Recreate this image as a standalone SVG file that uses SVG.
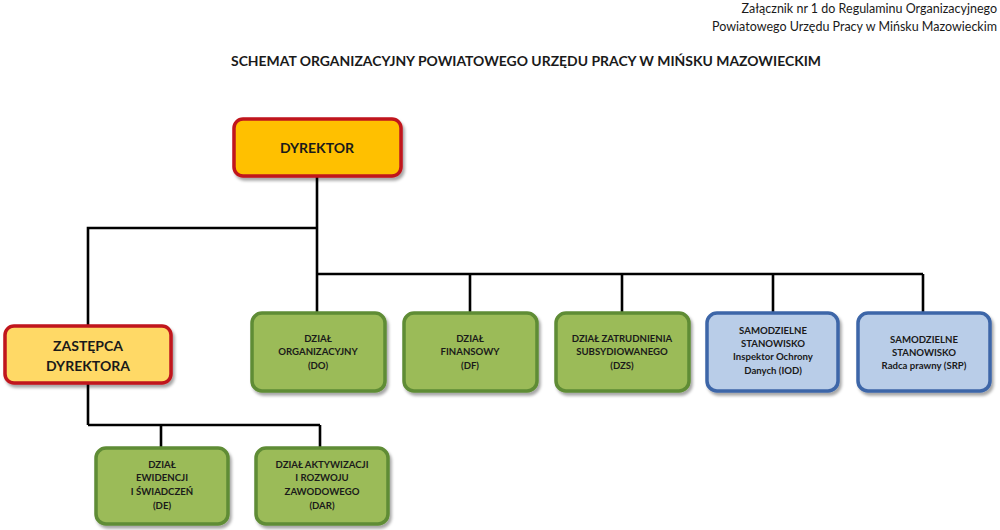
<svg xmlns="http://www.w3.org/2000/svg" width="1000" height="530" viewBox="0 0 1000 530">
<defs>
<filter id="sh" x="-10%" y="-10%" width="125%" height="130%">
<feDropShadow dx="2" dy="3" stdDeviation="1.5" flood-color="#000" flood-opacity="0.35"/>
</filter>
<style>
text{font-family:Lato,"Open Sans","Liberation Sans",sans-serif;fill:#1a1a1a}
.hdr{font-size:12.5px;text-anchor:end}
.title{font-size:14px;font-weight:bold;text-anchor:middle}
.big{font-size:14px;font-weight:bold;text-anchor:middle}
.sm{font-size:9.6px;font-weight:bold;text-anchor:middle}
.red{stroke:#C0141B;stroke-width:3.5;filter:url(#sh)}
.dyr{fill:#FFC000}
.zas{fill:#FFD966}
.grn{fill:#9BBB59;stroke:#5E8C34;stroke-width:3.5;filter:url(#sh)}
.blu{fill:#B9CDE8;stroke:#3E66A8;stroke-width:3.5;filter:url(#sh)}
.ln{stroke:#000;stroke-width:2.6;fill:none}
</style>
</defs>
<rect width="1000" height="530" fill="#fff"/>
<g id="header">
<text class="hdr" x="997" y="13">Załącznik nr 1 do Regulaminu Organizacyjnego</text>
<text class="hdr" x="997" y="31">Powiatowego Urzędu Pracy w Mińsku Mazowieckim</text>
<text class="title" x="526" y="66" textLength="590" lengthAdjust="spacingAndGlyphs">SCHEMAT ORGANIZACYJNY POWIATOWEGO URZĘDU PRACY W MIŃSKU MAZOWIECKIM</text>
</g>
<g id="connectors">
<path class="ln" d="M317 176 V312 M317 228 H88 V325 M317 274 H923 M470 274 V312 M622 274 V312 M773 274 V312 M923 274 V312 M88 383 V425 M88 425 H320 M161 425 V447 M320 425 V447"/>
</g>
<g id="dyrektor">
<rect class="red dyr" x="234" y="119" width="167" height="57" rx="9"/>
<text class="big" x="317" y="153">DYREKTOR</text>
</g>
<g id="zastepca">
<rect class="red zas" x="5" y="326" width="166" height="57" rx="9"/>
<text class="big" x="88" y="351">ZASTĘPCA</text>
<text class="big" x="88" y="371">DYREKTORA</text>
</g>
<g id="do">
<rect class="grn" x="252" y="313" width="133" height="78" rx="10"/>
<text class="sm" x="318" y="342">DZIAŁ</text>
<text class="sm" x="318" y="355">ORGANIZACYJNY</text>
<text class="sm" x="318" y="369">(DO)</text>
</g>
<g id="df">
<rect class="grn" x="404" y="313" width="133" height="78" rx="10"/>
<text class="sm" x="470" y="342">DZIAŁ</text>
<text class="sm" x="470" y="355">FINANSOWY</text>
<text class="sm" x="470" y="369">(DF)</text>
</g>
<g id="dzs">
<rect class="grn" x="556" y="313" width="133" height="78" rx="10"/>
<text class="sm" x="622" y="342">DZIAŁ ZATRUDNIENIA</text>
<text class="sm" x="622" y="355">SUBSYDIOWANEGO</text>
<text class="sm" x="622" y="369">(DZS)</text>
</g>
<g id="iod">
<rect class="blu" x="707" y="313" width="131" height="78" rx="10"/>
<text class="sm" x="773" y="334">SAMODZIELNE</text>
<text class="sm" x="773" y="347">STANOWISKO</text>
<text class="sm" x="773" y="360">Inspektor Ochrony</text>
<text class="sm" x="773" y="374">Danych (IOD)</text>
</g>
<g id="srp">
<rect class="blu" x="858" y="313" width="132" height="78" rx="10"/>
<text class="sm" x="924" y="343">SAMODZIELNE</text>
<text class="sm" x="924" y="356">STANOWISKO</text>
<text class="sm" x="924" y="369">Radca prawny (SRP)</text>
</g>
<g id="de">
<rect class="grn" x="96" y="448" width="132" height="76" rx="10"/>
<text class="sm" x="162" y="468">DZIAŁ</text>
<text class="sm" x="162" y="481">EWIDENCJI</text>
<text class="sm" x="162" y="495">I ŚWIADCZEŃ</text>
<text class="sm" x="162" y="509">(DE)</text>
</g>
<g id="dar">
<rect class="grn" x="256" y="448" width="132" height="76" rx="10"/>
<text class="sm" x="322" y="468">DZIAŁ AKTYWIZACJI</text>
<text class="sm" x="322" y="481">I ROZWOJU</text>
<text class="sm" x="322" y="495">ZAWODOWEGO</text>
<text class="sm" x="322" y="509">(DAR)</text>
</g>
</svg>
